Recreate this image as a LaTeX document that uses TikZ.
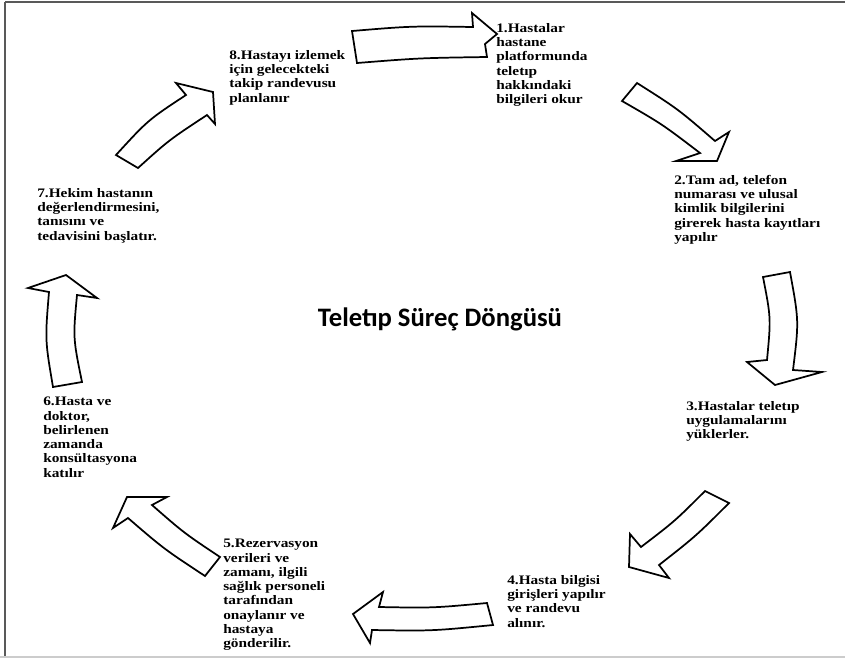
\documentclass[tikz,border=0pt]{standalone}
\usepackage{fontspec}
\setmainfont{Liberation Serif}
\newfontfamily\stepfont[FakeStretch=1.18]{Liberation Serif}
\newfontfamily\titlefont[BoldFont={Carlito Bold}]{Carlito}
\begin{document}
\begin{tikzpicture}[x=0.75pt,y=-0.75pt,
  blockarrow/.style={draw=black,fill=white,line width=1.3pt,line join=miter},
  steptext/.style={anchor=north west,inner sep=0pt,align=left,
    font=\stepfont\fontsize{9.75pt}{10.7pt}\selectfont\bfseries},
  frameline/.style={line width=1.5pt}]
\useasboundingbox (0,0) rectangle (845,658);
% frame
\draw[frameline,draw=black!65] (5,2) -- (845,2);
\draw[frameline,draw=black!65] (5,2) -- (5,658);
\draw[line width=1pt,draw=black!20] (0,657) -- (845,657);
% title
\node[font=\titlefont\fontsize{20pt}{24pt}\selectfont\bfseries,inner sep=0pt] (title) at (440,319) {Teletıp Süreç Döngüsü};
% steps
\node[steptext] (s1) at (496,23) {1.Hastalar\\hastane\\platformunda\\teletıp\\hakkındaki\\bilgileri okur};
\node[steptext] (s2) at (674,175) {2.Tam ad, telefon\\numarası ve ulusal\\kimlik bilgilerini\\girerek hasta kayıtları\\yapılır};
\node[steptext] (s3) at (686,401) {3.Hastalar teletıp\\uygulamalarını\\yüklerler.};
\node[steptext] (s4) at (507,575) {4.Hasta bilgisi\\girişleri yapılır\\ve randevu\\alınır.};
\node[steptext] (s5) at (223,539) {5.Rezervasyon\\verileri ve\\zamanı, ilgili\\sağlık personeli\\tarafından\\onaylanır ve\\hastaya\\gönderilir.};
\node[steptext] (s6) at (43,397) {6.Hasta ve\\doktor,\\belirlenen\\zamanda\\konsültasyona\\katılır};
\node[steptext] (s7) at (37,188) {7.Hekim hastanın\\değerlendirmesini,\\tanısını ve\\tedavisini başlatır.};
\node[steptext] (s8) at (229,50) {8.Hastayı izlemek\\için gelecekteki\\takip randevusu\\planlanır};
% arrows
% 8 -> 1
\draw[blockarrow] (352,31) .. controls (412,26) .. (473,27) -- (472,13) -- (497,34) -- (485,44) -- (487,57) .. controls (420,58) .. (357,63) -- cycle;
% 1 -> 2
\draw[blockarrow] (637,83) .. controls (678,109) .. (715,141) -- (729,132) -- (717,161) -- (676,161) -- (700,153) .. controls (662,124) .. (622,101) -- cycle;
% 2 -> 3
\draw[blockarrow] (763,277) -- (790,272) .. controls (799,321) .. (793,370) -- (822,372) -- (775,385) -- (747,362) -- (767,360) .. controls (771,318) .. cycle;
% 3 -> 4
\draw[blockarrow] (705,491) -- (729,503) .. controls (696,536) .. (659,565) -- (669,578) -- (629,567) -- (630,534) -- (641,547) .. controls (675,521) .. cycle;
% 4 -> 5
\draw[blockarrow] (487,603) -- (493,625) .. controls (432,631) .. (372,630) -- (370,643) -- (353,614) -- (383,592) -- (379,607) .. controls (433,608) .. cycle;
% 5 -> 6
\draw[blockarrow] (205,576) -- (220,557) .. controls (184,533) .. (152,505) -- (167,497) -- (127,497) -- (113,528) -- (128,518) .. controls (164,549) .. cycle;
% 6 -> 7
\draw[blockarrow] (53,387) -- (82,382) .. controls (73,338) .. (77,295) -- (97,298) -- (66,275) -- (28,288) -- (49,292) .. controls (45,340) .. cycle;
% 7 -> 8
\draw[blockarrow] (116,155) -- (138,168) .. controls (169,140) .. (207,115) -- (215,124) -- (213,92) -- (176,83) -- (186,95) .. controls (148,120) .. cycle;
\end{tikzpicture}
\end{document}
